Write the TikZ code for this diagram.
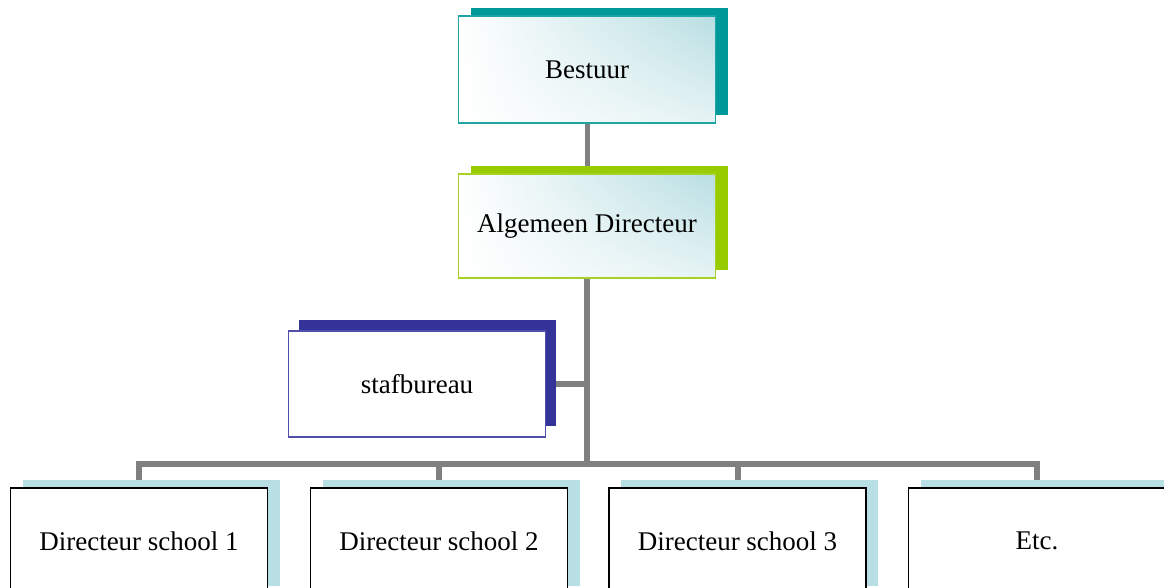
\documentclass[tikz,border=0pt]{standalone}
\usepackage{fontspec}
\setmainfont{Liberation Serif}
\usetikzlibrary{shadows,shadings,backgrounds}

\definecolor{tealdark}{RGB}{0,153,153}
\definecolor{tealline}{RGB}{30,166,166}
\definecolor{tealpale}{RGB}{184,222,226}
\definecolor{limegreen}{RGB}{153,204,0}
\definecolor{limeline}{RGB}{166,210,40}
\definecolor{navy}{RGB}{51,51,153}
\definecolor{navyline}{RGB}{80,80,170}
\definecolor{paleblue}{RGB}{184,223,227}
\definecolor{connector}{RGB}{128,128,128}

\tikzset{
  orgbox/.style={draw, rectangle, minimum width=257pt, minimum height=106pt,
    inner sep=0pt, font=\fontsize{27}{32}\selectfont},
  tealshade/.style={upper left=white, lower left=white,
    upper right=tealpale, lower right=tealpale!35},
  topbox/.style={orgbox, line width=1.5pt, tealshade,
    drop shadow={shadow xshift=12pt, shadow yshift=8pt, fill=#1, opacity=1}},
  staffbox/.style={orgbox, draw=navyline, line width=1.5pt, fill=white,
    drop shadow={shadow xshift=10.5pt, shadow yshift=11.5pt, fill=navy, opacity=1}},
  schoolbox/.style={orgbox, draw=black, line width=1.8pt, fill=white,
    drop shadow={shadow xshift=12pt, shadow yshift=8pt, fill=paleblue, opacity=1}},
  conn/.style={draw=connector, line width=6pt, line join=miter},
}

\begin{document}
\begin{tikzpicture}[x=1pt, y=-1pt]
  \clip (0,0) rectangle (1164,587);

  % management chain
  \node[topbox=tealdark, draw=tealline, minimum height=107pt] (bestuur) at (587,69.5) {Bestuur};
  \node[topbox=limegreen, draw=limeline, minimum height=104pt] (alg) at (587,226) {Algemeen Directeur};

  % staff office
  \node[staffbox] (staf) at (417,384) {stafbureau};

  % school directors
  \node[schoolbox] (d1) at (139,541) {Directeur school 1};
  \node[schoolbox] (d2) at (439,541) {Directeur school 2};
  \node[schoolbox] (d3) at (737.5,541) {Directeur school 3};
  \node[schoolbox] (d4) at (1037,541) {Etc.};

  \coordinate (bar) at (587,464);

  \begin{pgfonlayer}{background}
    \draw[conn, line width=5pt] (bestuur.south) -- (alg.north);
    \draw[conn] (alg.south) -- (alg.south |- bar);
    \draw[conn] (alg.south |- staf.east) -- (staf.east);
    \draw[conn] (d1.north) |- (bar) -| (d4.north);
    \draw[conn] (d2.north) -- (d2.north |- bar);
    \draw[conn] (d3.north) -- (d3.north |- bar);
  \end{pgfonlayer}
\end{tikzpicture}
\end{document}
